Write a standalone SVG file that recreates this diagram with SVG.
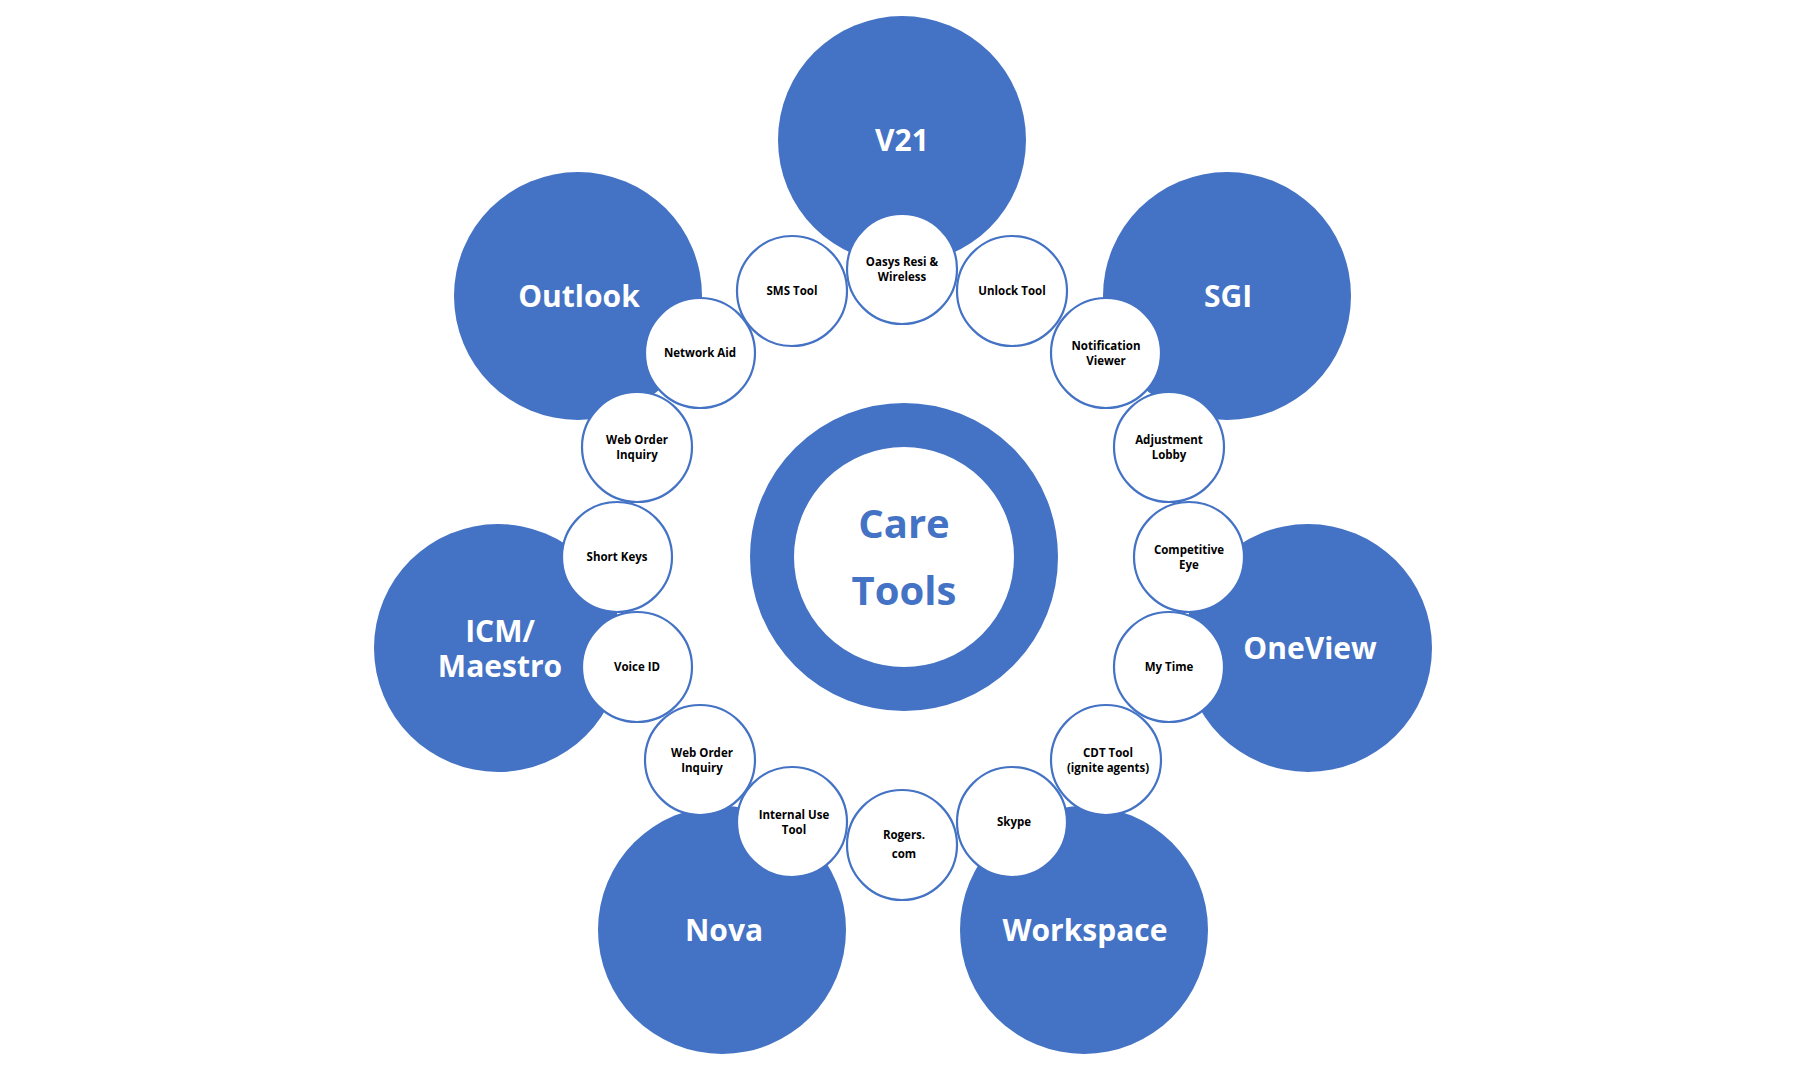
<svg xmlns="http://www.w3.org/2000/svg" width="1804" height="1066" viewBox="0 0 1804 1066">
<style>
.big{fill:#4472C4}
.bt{fill:#fff;font-family:"Open Sans","Liberation Sans",sans-serif;font-weight:bold;font-size:30px;text-anchor:middle;dominant-baseline:central}
.sm{fill:#fff;stroke:#4472C4;stroke-width:2.2}
.st{fill:#000;font-family:"Open Sans","Liberation Sans",sans-serif;font-weight:bold;font-size:11.5px;text-anchor:middle;dominant-baseline:central}
.ct{fill:#4472C4;font-family:"Open Sans","Liberation Sans",sans-serif;font-weight:bold;font-size:40px;text-anchor:middle;dominant-baseline:central}
</style>
<rect width="1804" height="1066" fill="#fff"/>
<g id="v21"><circle class="big" cx="902" cy="140" r="124"/><text class="bt" x="902" y="139">V21</text></g>
<g id="outlook"><circle class="big" cx="578" cy="296" r="124"/><text class="bt" x="579" y="295">Outlook</text></g>
<g id="sgi"><circle class="big" cx="1227" cy="296" r="124"/><text class="bt" x="1228" y="295">SGI</text></g>
<g id="icm"><circle class="big" cx="498" cy="648" r="124"/><text class="bt" x="500" y="630">ICM/</text><text class="bt" x="500" y="665">Maestro</text></g>
<g id="oneview"><circle class="big" cx="1308" cy="648" r="124"/><text class="bt" x="1310" y="647">OneView</text></g>
<g id="nova"><circle class="big" cx="722" cy="930" r="124"/><text class="bt" x="724" y="929">Nova</text></g>
<g id="workspace"><circle class="big" cx="1084" cy="930" r="124"/><text class="bt" x="1085" y="929">Workspace</text></g>
<g id="care-tools"><circle cx="904" cy="557" r="132" fill="none" stroke="#4472C4" stroke-width="44"/><text class="ct" x="904" y="522">Care</text><text class="ct" x="904" y="589">Tools</text></g>
<g id="connectors"></g>
<g id="sms"><circle class="sm" cx="792" cy="291" r="55"/><text class="st" x="792" y="290">SMS Tool</text></g>
<g id="unlock"><circle class="sm" cx="1012" cy="291" r="55"/><text class="st" x="1012" y="290">Unlock Tool</text></g>
<g id="oasys"><circle class="sm" cx="902" cy="269" r="55"/><text class="st" x="902" y="261">Oasys Resi &amp;</text><text class="st" x="902" y="276">Wireless</text></g>
<g id="network"><circle class="sm" cx="700" cy="353" r="55"/><text class="st" x="700" y="352">Network Aid</text></g>
<g id="notification"><circle class="sm" cx="1106" cy="353" r="55"/><text class="st" x="1106" y="345">Notification</text><text class="st" x="1106" y="360">Viewer</text></g>
<g id="weborder1"><circle class="sm" cx="637" cy="447" r="55"/><text class="st" x="637" y="439">Web Order</text><text class="st" x="637" y="454">Inquiry</text></g>
<g id="adjustment"><circle class="sm" cx="1169" cy="447" r="55"/><text class="st" x="1169" y="439">Adjustment</text><text class="st" x="1169" y="454">Lobby</text></g>
<g id="shortkeys"><circle class="sm" cx="617" cy="557" r="55"/><text class="st" x="617" y="556">Short Keys</text></g>
<g id="competitive"><circle class="sm" cx="1189" cy="557" r="55"/><text class="st" x="1189" y="549">Competitive</text><text class="st" x="1189" y="564">Eye</text></g>
<g id="voiceid"><circle class="sm" cx="637" cy="667" r="55"/><text class="st" x="637" y="666">Voice ID</text></g>
<g id="mytime"><circle class="sm" cx="1169" cy="667" r="55"/><text class="st" x="1169" y="666">My Time</text></g>
<g id="weborder2"><circle class="sm" cx="700" cy="760" r="55"/><text class="st" x="702" y="752">Web Order</text><text class="st" x="702" y="767">Inquiry</text></g>
<g id="cdt"><circle class="sm" cx="1106" cy="760" r="55"/><text class="st" x="1108" y="752">CDT Tool</text><text class="st" x="1108" y="767">(ignite agents)</text></g>
<g id="internal"><circle class="sm" cx="792" cy="822" r="55"/><text class="st" x="794" y="814">Internal Use</text><text class="st" x="794" y="829">Tool</text></g>
<g id="skype"><circle class="sm" cx="1012" cy="822" r="55"/><text class="st" x="1014" y="821">Skype</text></g>
<g id="rogers"><circle class="sm" cx="902" cy="845" r="55"/><text class="st" x="904" y="834">Rogers.</text><text class="st" x="904" y="853">com</text></g>
</svg>
